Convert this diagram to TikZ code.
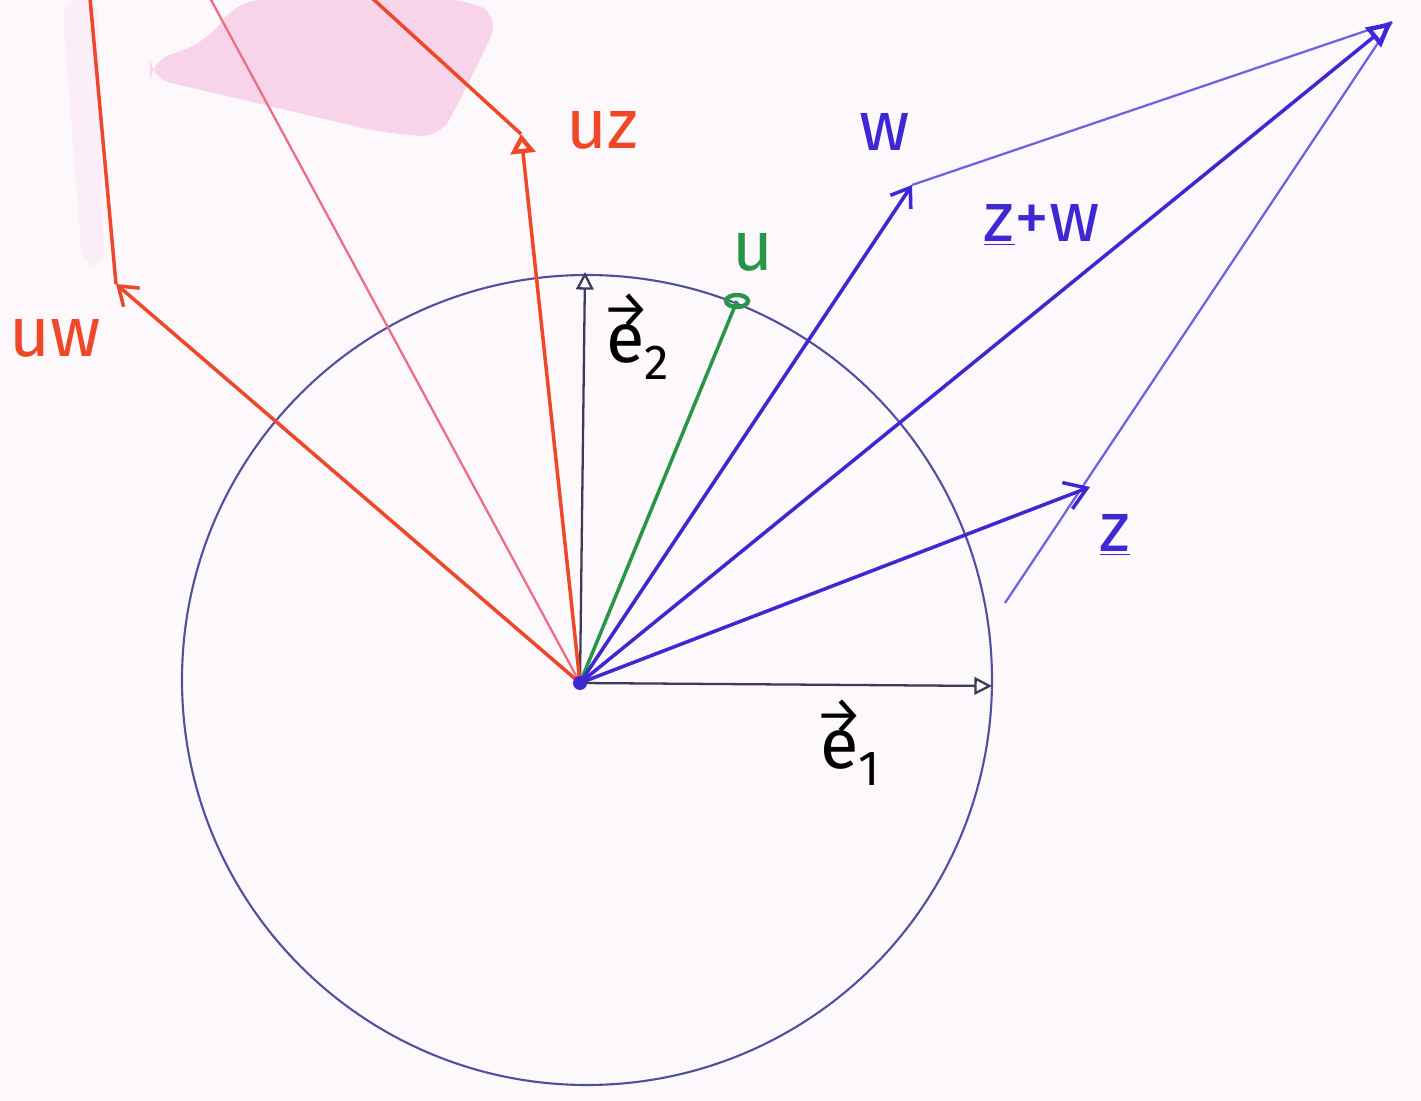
\documentclass[tikz,border=0pt]{standalone}
\usepackage{fontspec}
\setmainfont{Fira Sans}
\usetikzlibrary{arrows.meta}
\definecolor{bg}{RGB}{253,248,251}
\definecolor{pen}{RGB}{62,40,212}
\definecolor{penl}{RGB}{110,100,225}
\definecolor{redpen}{RGB}{238,72,40}
\definecolor{pinkpen}{RGB}{236,110,130}
\definecolor{greenpen}{RGB}{40,150,70}
\definecolor{circ}{RGB}{80,80,160}
\definecolor{basis}{RGB}{60,60,90}
\definecolor{smear}{RGB}{235,120,190}
\newcommand{\vecE}[1]{\ooalign{e\cr\hidewidth\raisebox{0.5em}{\fontsize{30}{30}\selectfont →}\hidewidth\cr}\raisebox{-0.25em}{\fontsize{28}{28}\selectfont #1}}
\tikzset{
  lbl/.style={font=\fontsize{40}{40}\selectfont, inner sep=0pt},
  bluevec/.style={pen, line width=2pt},
  bluethin/.style={penl, line width=1.3pt},
  redvec/.style={redpen, line width=2pt},
  basisvec/.style={basis, line width=1.3pt, -{Triangle[open, length=10pt, width=10pt]}},
}
\begin{document}
\begin{tikzpicture}[x=0.02cm, y=-0.02cm]
\fill[bg] (0,0) rectangle (1421,1101);
\useasboundingbox (0,0) rectangle (1421,1101);
% pink smear
\fill[smear, opacity=0.28, rounded corners=12] (150,62) -- (205,42) -- (240,0) -- (470,0) -- (500,18) -- (470,80) -- (440,138) -- (380,132) -- (150,78) -- cycle;
\fill[smear, opacity=0.07, rounded corners=10] (62,0) -- (98,0) -- (104,270) -- (82,262) -- cycle;
% points
\coordinate (O) at (580,683);
\coordinate (e1) at (992,686);
\coordinate (e2) at (585,272);
\coordinate (u) at (737,301);
\coordinate (w) at (912,185);
\coordinate (z) at (1090,487);
\coordinate (zw) at (1392,22);
\coordinate (zlow) at (1005,603);
\coordinate (uz) at (521,134);
\coordinate (uw) at (116,284);
\coordinate (uzw) at (210,-2);
\coordinate (uwtop) at (90,-2);
\coordinate (uztop) at (372,-2);
% circle
\draw[circ, line width=1.2pt] (587,680) circle[radius=405];
% basis vectors
\draw[basisvec] (O) -- (e1);
\draw[basisvec] (O) -- (e2);
% red vectors
\draw[pinkpen, line width=1.3pt] (O) -- (uzw);
\draw[redvec] (uwtop) -- (uw);
\draw[redvec] (uztop) -- (uz);
\draw[redvec, -{Straight Barb[length=10pt, width=14pt]}] (O) -- (uw);
\draw[redvec, -{Triangle[open, length=11pt, width=14pt, line width=2.5pt]}] (O) -- (uz);
% green
\draw[greenpen, line width=2pt] (O) -- (u);
\draw[greenpen, line width=2.5pt] (u) ellipse[x radius=11, y radius=6];
% blue
\draw[bluethin] (zlow) -- (zw);
\draw[bluethin] (w) -- (zw);
\draw[bluevec, -{Straight Barb[length=10pt, width=14pt]}] (O) -- (w);
\draw[bluevec, -{Straight Barb[length=12pt, width=16pt]}] (O) -- (z);
\draw[bluevec, -{Triangle[open, length=14pt, width=14pt, line width=2.5pt]}] (O) -- (zw);
\fill[pen] (O) circle[radius=7];
% labels
\node[lbl, text=redpen] (luz) at (602,130) {uz};
\node[lbl, text=redpen] (luw) at (55,338) {uw};
\node[lbl, text=greenpen] (lu) at (753,252) {u};
\node[lbl, text=pen] (lw) at (885,132) {w};
\node[lbl, text=pen] (lzw) at (1042,225) {\underline{z}+w};
\node[lbl, text=pen] (lz) at (1115,535) {\underline{z}};
\node[lbl, text=black] (le2) at (638,352) {\vecE{2}};
\node[lbl, text=black] (le1) at (850,758) {\vecE{1}};
\end{tikzpicture}
\end{document}
